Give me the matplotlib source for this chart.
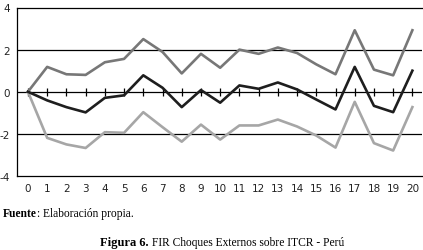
import matplotlib
matplotlib.use("Agg")
import matplotlib.pyplot as plt

# horizonte
periods = list(range(21))

# bandas y respuesta
upper = [0, 1.18, 0.83, 0.80, 1.40, 1.56, 2.50, 1.89, 0.87, 1.80, 1.14,
         2.00, 1.80, 2.10, 1.84, 1.30, 0.83, 2.92, 1.05, 0.78, 2.92]
fir = [0, -0.41, -0.73, -0.98, -0.29, -0.17, 0.78, 0.19, -0.73, 0.08, -0.52,
       0.30, 0.14, 0.44, 0.11, -0.37, -0.84, 1.18, -0.67, -0.97, 1.00]
lower = [0, -2.19, -2.50, -2.67, -1.92, -1.95, -0.97, -1.68, -2.37, -1.56, -2.27,
         -1.60, -1.60, -1.32, -1.65, -2.08, -2.65, -0.48, -2.44, -2.79, -0.73]

yticks = [-4, -2, 0, 2, 4]

fig = plt.figure(figsize=(4.23, 2.51), dpi=100)
ax = fig.add_axes([17 / 423, 74 / 251, 405 / 423, 168.5 / 251])

for y in [-2, 2]:
    ax.axhline(y, color="black", lw=0.9, zorder=1)
ax.axhline(0, color="black", lw=0.9, zorder=1)
ax.plot(periods, [0] * len(periods), ls="", marker="|", ms=6, mew=0.9,
        color="black", zorder=1)

ax.plot(periods, upper, color="#777777", lw=1.9, zorder=2)
ax.plot(periods, lower, color="#a6a6a6", lw=1.9, zorder=2)
ax.plot(periods, fir, color="#1e1e1e", lw=1.9, zorder=3)

ax.set_xlim(-0.57, 20.5)
ax.set_ylim(-4, 4)
ax.set_yticks(yticks)
ax.set_yticklabels([str(v) for v in yticks])
ax.set_xticks(periods)
ax.tick_params(length=0, labelsize=7.5, colors="#222222")
ax.tick_params(axis="x", pad=5)
ax.tick_params(axis="y", pad=5)
ax.spines["right"].set_visible(False)
for s in ["top", "left", "bottom"]:
    ax.spines[s].set_linewidth(0.9)

# pie de figura
r = fig.canvas.get_renderer()
t1 = fig.text(3 / 423, 1 - 214 / 251, "Fuente", fontsize=8.3, family="Liberation Serif",
              fontweight="bold", va="center")
bb = t1.get_window_extent(renderer=r)
fig.text(bb.x1 / fig.bbox.width, 1 - 214 / 251, ": Elaboración propia.", fontsize=8.3,
         family="Liberation Serif", va="center")

t2 = fig.text(100 / 423, 1 - 243 / 251, "Figura 6.", fontsize=9, family="Liberation Serif",
              fontweight="bold", va="center")
bb = t2.get_window_extent(renderer=r)
fig.text(bb.x1 / fig.bbox.width + 0.008, 1 - 243 / 251, "FIR Choques Externos sobre ITCR - Perú",
         fontsize=8.3, family="Liberation Serif", va="center")

fig.savefig("out.png", dpi=100)
